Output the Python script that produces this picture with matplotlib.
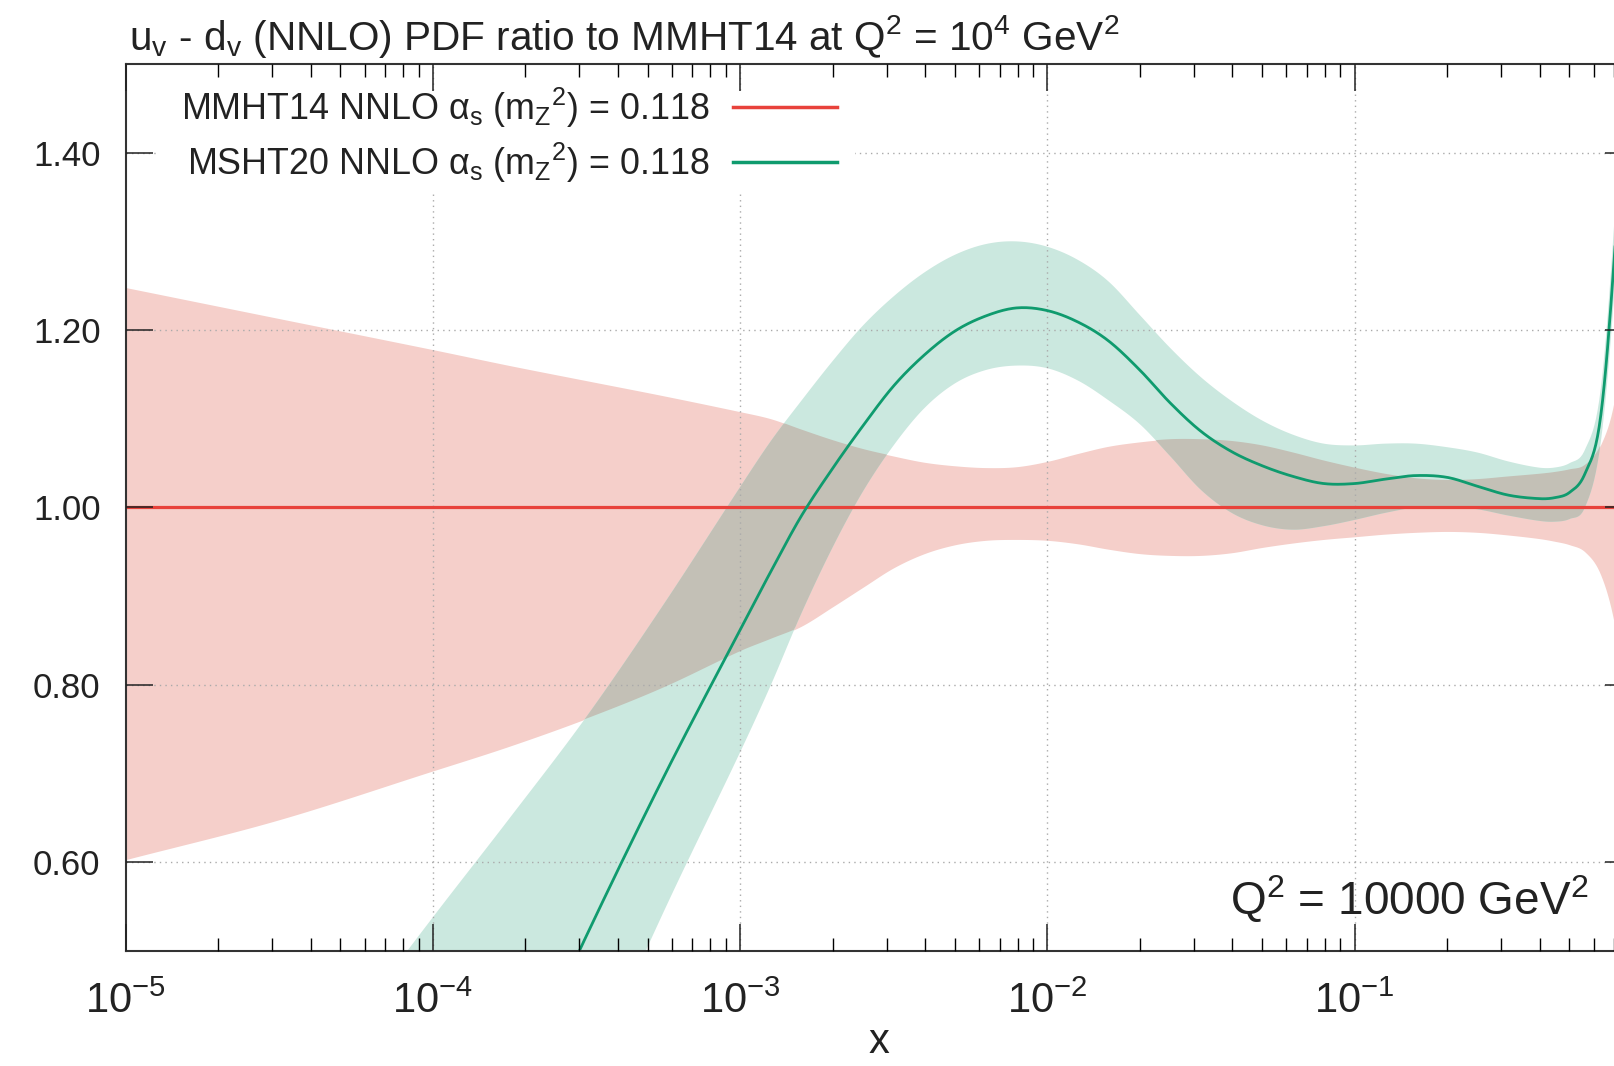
import numpy as np
import matplotlib
matplotlib.use('Agg')
import matplotlib.pyplot as plt
from matplotlib.patches import Rectangle
from matplotlib.lines import Line2D
from matplotlib.ticker import FixedLocator, FuncFormatter, LogLocator, NullFormatter, NullLocator

plt.rcParams['font.family'] = ['Liberation Sans', 'DejaVu Sans']
plt.rcParams['mathtext.fontset'] = 'custom'
plt.rcParams['mathtext.rm'] = 'Liberation Sans'
plt.rcParams['mathtext.it'] = 'Liberation Sans:italic'
plt.rcParams['mathtext.bf'] = 'Liberation Sans:bold'
plt.rcParams['mathtext.default'] = 'regular'

# ---------------- data ----------------
x_vals = [1.0e-5, 3.16e-5, 1.0e-4, 1.78e-4, 3.16e-4, 5.62e-4, 1.0e-3, 1.26e-3, 1.58e-3,
          2.0e-3, 2.51e-3, 3.16e-3, 3.98e-3, 5.01e-3, 6.31e-3, 7.94e-3, 1.0e-2, 1.26e-2,
          1.58e-2, 2.0e-2, 2.51e-2, 3.16e-2, 3.98e-2, 5.01e-2, 6.31e-2, 7.94e-2, 0.1,
          0.126, 0.158, 0.2, 0.251, 0.316, 0.398, 0.447, 0.501, 0.562, 0.631, 0.70, 0.794]

# MMHT14 NNLO ratio to itself (central) and its uncertainty band
mmht_central = 1.0
mmht_upper = [1.248, 1.213, 1.178, 1.160, 1.143, 1.126, 1.108, 1.100, 1.088, 1.076, 1.066,
              1.058, 1.051, 1.047, 1.045, 1.046, 1.052, 1.061, 1.069, 1.074, 1.077, 1.077,
              1.075, 1.070, 1.062, 1.053, 1.045, 1.038, 1.033, 1.031, 1.032, 1.035, 1.038,
              1.040, 1.043, 1.048, 1.07, 1.12, 1.25]
mmht_lower = [0.603, 0.648, 0.703, 0.731, 0.762, 0.797, 0.838, 0.852, 0.866, 0.888, 0.910,
              0.932, 0.948, 0.958, 0.963, 0.964, 0.963, 0.959, 0.953, 0.948, 0.946, 0.946,
              0.949, 0.955, 0.960, 0.964, 0.967, 0.970, 0.972, 0.973, 0.972, 0.969, 0.965,
              0.962, 0.958, 0.950, 0.925, 0.87, 0.75]

# MSHT20 NNLO ratio to MMHT14
msht_central = [-0.5, -0.2, 0.15, 0.33, 0.517, 0.695, 0.862, 0.928, 0.990, 1.044, 1.092,
                1.137, 1.172, 1.199, 1.216, 1.225, 1.222, 1.209, 1.188, 1.155, 1.118, 1.086,
                1.063, 1.047, 1.035, 1.027, 1.027, 1.032, 1.036, 1.034, 1.024, 1.014, 1.010,
                1.011, 1.017, 1.038, 1.10, 1.28, 1.60]
msht_upper = [0.09, 0.31, 0.538, 0.65, 0.764, 0.89, 1.023, 1.075, 1.12, 1.165, 1.205, 1.238,
              1.265, 1.285, 1.297, 1.300, 1.294, 1.279, 1.255, 1.217, 1.180, 1.147, 1.12,
              1.098, 1.082, 1.072, 1.070, 1.072, 1.072, 1.068, 1.062, 1.052, 1.045, 1.045,
              1.05, 1.065, 1.13, 1.32, 1.65]
msht_lower = [-0.85, -0.45, -0.05, 0.15, 0.35, 0.543, 0.724, 0.80, 0.88, 0.955, 1.018, 1.070,
              1.112, 1.140, 1.155, 1.160, 1.157, 1.143, 1.121, 1.094, 1.058, 1.02, 0.994,
              0.980, 0.975, 0.979, 0.986, 0.994, 1.000, 1.001, 0.998, 0.991, 0.985, 0.984,
              0.987, 1.0, 1.07, 1.24, 1.55]

x_major_ticks = [1e-5, 1e-4, 1e-3, 1e-2, 1e-1]
y_major_ticks = [0.60, 0.80, 1.00, 1.20, 1.40]

legend_labels = [r'MMHT14 NNLO α$_s$ (m$_Z{}^2$) = 0.118',
                 r'MSHT20 NNLO α$_s$ (m$_Z{}^2$) = 0.118']
title_text = r'u$_v$ - d$_v$ (NNLO) PDF ratio to MMHT14 at Q$^2$ = 10$^4$ GeV$^2$'
q2_text = r'Q$^2$ = 10000 GeV$^2$'

# ---------------- styles ----------------
RED = '#e8423b'
GREEN = '#0f9b6e'
RED_BAND = '#f5cfca'
GREEN_BAND = '#cbe8df'
OVERLAP = '#c3c0b6'
GRID = '#aaaaaa'


def smooth(xv, yv, n=900):
    """Cubic Hermite (Catmull-Rom style) curve through the read points, in log10(x)."""
    t = np.log10(np.asarray(xv, float))
    y = np.asarray(yv, float)
    m = np.empty_like(y)
    m[1:-1] = (y[2:] - y[:-2]) / (t[2:] - t[:-2])
    m[0] = (y[1] - y[0]) / (t[1] - t[0])
    m[-1] = (y[-1] - y[-2]) / (t[-1] - t[-2])
    tt = np.linspace(t[0], t[-1], n)
    idx = np.clip(np.searchsorted(t, tt) - 1, 0, len(t) - 2)
    h = t[idx + 1] - t[idx]
    s = (tt - t[idx]) / h
    h00 = 2 * s**3 - 3 * s**2 + 1
    h10 = s**3 - 2 * s**2 + s
    h01 = -2 * s**3 + 3 * s**2
    h11 = s**3 - s**2
    yy = h00 * y[idx] + h10 * h * m[idx] + h01 * y[idx + 1] + h11 * h * m[idx + 1]
    return 10**tt, yy


W, H = 1614, 1066
fig = plt.figure(figsize=(W / 100, H / 100), dpi=100)
ax_left, ax_right, ax_top, ax_bot = 125.6, 1632.0, 64.0, 951.0
ax = fig.add_axes([ax_left / W, 1 - ax_bot / H, (ax_right - ax_left) / W, (ax_bot - ax_top) / H])

xs, ru = smooth(x_vals, mmht_upper)
_, rl = smooth(x_vals, mmht_lower)
_, gu = smooth(x_vals, msht_upper)
_, gl = smooth(x_vals, msht_lower)
_, gc = smooth(x_vals, msht_central)

ax.fill_between(xs, rl, ru, color=RED_BAND, lw=0, zorder=1)
ax.fill_between(xs, gl, gu, color=GREEN_BAND, lw=0, zorder=1.5)
ov_lo = np.maximum(rl, gl)
ov_hi = np.minimum(ru, gu)
ax.fill_between(xs, ov_lo, ov_hi, where=ov_hi > ov_lo, interpolate=True,
                color=OVERLAP, lw=0, zorder=2)

# grid (dotted, drawn over the bands)
for v in x_major_ticks[1:]:
    ax.axvline(v, color=GRID, lw=1.0, ls=(0, (1, 3)), zorder=3)
for v in y_major_ticks:
    ax.axhline(v, color=GRID, lw=1.0, ls=(0, (1, 3)), zorder=3)

ax.plot(x_vals, [mmht_central] * len(x_vals), color=RED, lw=2.3, zorder=4)
ax.plot(xs, gc, color=GREEN, lw=2.0, zorder=4.1)

ax.set_xscale('log')
ax.set_xlim(1e-5, 0.8)
ax.set_ylim(0.5, 1.5)

ax.xaxis.set_major_locator(FixedLocator(x_major_ticks))
ax.xaxis.set_major_formatter(FuncFormatter(lambda v, p: r'$10^{%d}$' % int(round(np.log10(v)))))
ax.xaxis.set_minor_locator(LogLocator(base=10, subs=np.arange(2, 10), numticks=100))
ax.xaxis.set_minor_formatter(NullFormatter())
ax.yaxis.set_major_locator(FixedLocator(y_major_ticks))
ax.yaxis.set_major_formatter(FuncFormatter(lambda v, p: '%.2f' % v))
ax.yaxis.set_minor_locator(NullLocator())

ax.tick_params(axis='x', which='major', direction='in', length=19.5, width=1.1,
               top=True, bottom=True, pad=22, labelsize=30, colors='#222222')
ax.tick_params(axis='x', which='minor', direction='in', length=9.5, width=1.0,
               top=True, bottom=True)
ax.tick_params(axis='y', which='major', direction='in', length=19.5, width=1.1,
               left=True, right=True, pad=18, labelsize=25, colors='#222222')
for s in ax.spines.values():
    s.set_linewidth(1.5)
    s.set_color('#333333')
    s.set_zorder(5)
ax.xaxis.set_zorder(5)
ax.yaxis.set_zorder(5)

ax.set_xlabel('x', fontsize=30, labelpad=0, color='#222222')

# legend (gnuplot style: text right-aligned, sample line to its right)
ax.add_patch(Rectangle((0.02, (ax_bot - 193) / (ax_bot - ax_top)), 0.464,
                       (193 - 92) / (ax_bot - ax_top), transform=ax.transAxes,
                       facecolor='white', edgecolor='none', zorder=3.5))
leg_rows = [(legend_labels[0], RED, 120.5, 107.0), (legend_labels[1], GREEN, 175.0, 161.6)]
for lab, col, base_y, line_y in leg_rows:
    fig.text(710 / W, 1 - base_y / H, lab, ha='right', va='baseline', fontsize=25.8,
             color='#222222', zorder=6)
    fig.add_artist(Line2D([733 / W, 837 / W], [1 - line_y / H, 1 - line_y / H],
                          transform=fig.transFigure, color=col, lw=2.5, zorder=6))

fig.text(129 / W, 1 - 50 / H, title_text, ha='left', va='baseline', fontsize=29.2,
         color='#222222')
fig.text(1588 / W, 1 - 914 / H, q2_text, ha='right', va='baseline', fontsize=33,
         color='#222222')

fig.savefig('out.png', dpi=100)
